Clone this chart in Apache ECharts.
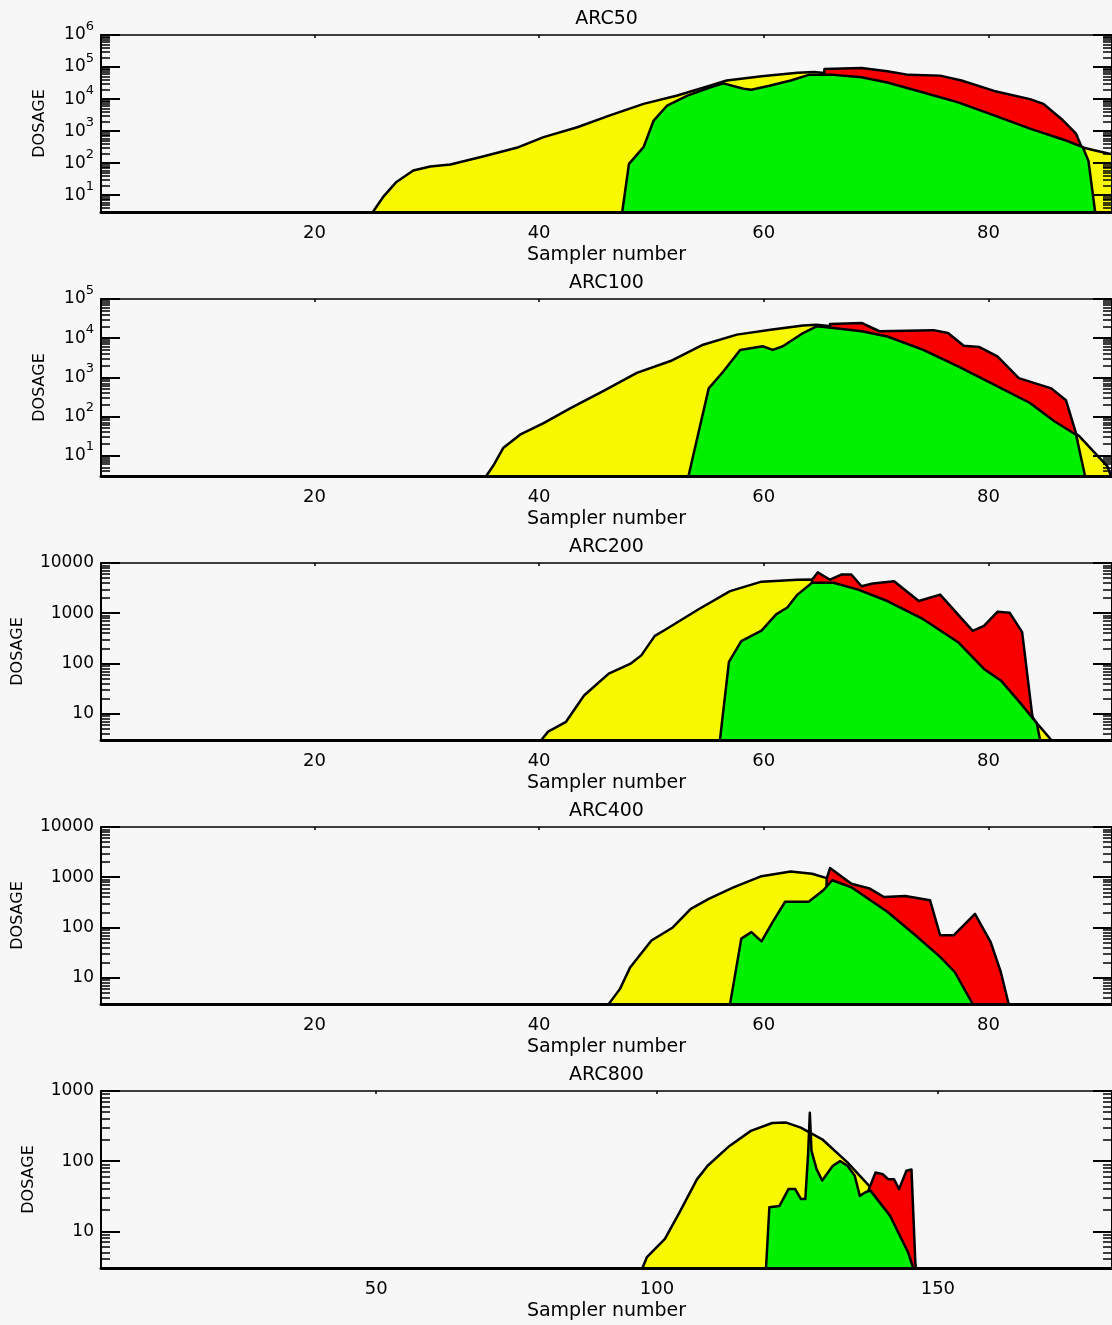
<!DOCTYPE html>
<html><head><meta charset="utf-8">
<script src="https://cdn.jsdelivr.net/npm/echarts@6/dist/echarts.min.js"></script>
<style>html,body{margin:0;padding:0;background:#f7f7f7}#c{width:1112px;height:1325px}</style>
</head><body><div id="c"></div>
<script>
// ---------- data: [sampler number, dosage] ----------
const titles = ['ARC50', 'ARC100', 'ARC200', 'ARC400', 'ARC800'];
const xTicksA = [20, 40, 60, 80];
const xTicksB = [50, 100, 150];

const yellow50 = [[25.2,3],[26.1,8.7],[27.3,26],[28.8,59],[30.3,79],[32.1,91],[35.0,162],[38.0,302],[40.4,650],[43.4,1320],[46.3,3100],[49.3,7100],[52.3,12900],[55.2,26000],[56.7,38000],[59.8,52000],[63.0,66000],[64.5,70000],[66,62000],[70,35000],[75,14000],[80,4000],[84,1100],[86.5,500],[88.3,316],[89.5,250],[91,190]];
const red50 = [[64.8,3],[65.4,87000],[68.7,93000],[71.0,74000],[72.9,57000],[75.7,54000],[77.6,38000],[80.5,18000],[83.7,10000],[84.9,7100],[86.5,2400],[87.8,830],[88.3,316],[89.0,3]];
const green50 = [[47.4,3],[48.0,95],[49.3,316],[50.2,2140],[51.4,6300],[53.2,12900],[55.2,23000],[56.4,31000],[58.2,21000],[58.9,19500],[60.5,26000],[62.4,38000],[64.0,57000],[66.2,57000],[68.7,48000],[71.0,33000],[74.2,16000],[77.3,7900],[80.5,3100],[83.7,1200],[86.9,510],[88.4,316],[88.9,120],[89.5,3]];

const yellow100 = [[35.3,3],[36.0,6],[36.8,15.5],[38.3,34],[40.4,67],[42.8,162],[45.7,440],[48.7,1290],[51.7,2600],[54.6,6800],[57.6,12300],[60.6,16300],[63.5,21000],[64.7,22000],[66,20000],[70,12000],[75,4500],[80,900],[85,120],[87.8,36],[88.1,31],[90.6,5.3],[90.9,3]];
const red100 = [[65.5,3],[65.9,23000],[68.7,24500],[70.3,15000],[75.1,16000],[76.4,13500],[77.8,6400],[79.2,5900],[80.8,3400],[82.7,950],[85.6,520],[86.9,260],[87.8,37],[88.4,3]];
const green100 = [[53.3,3],[55.1,520],[56.4,1400],[57.9,5000],[59.9,6200],[60.8,5000],[61.7,6200],[63.5,13500],[64.7,20000],[65.6,19000],[68.7,15000],[71.0,11000],[74.2,5000],[77.3,1900],[80.5,650],[83.7,220],[85.9,74],[87.8,34],[88.6,3]];

const yellow200 = [[40.2,3],[40.8,4.4],[42.4,6.9],[44.0,23],[46.2,63],[48.1,98],[49.1,145],[50.3,355],[51.3,480],[54.2,1200],[57.0,2750],[59.8,4250],[63.0,4650],[64.3,4700],[66,4000],[70,2200],[75,650],[80,90],[83,17],[84.3,6.5],[85.6,3]];
const red200 = [[64.0,3],[64.3,4650],[64.8,6500],[65.9,4650],[66.9,5900],[67.8,5900],[68.7,3450],[69.7,3900],[71.6,4350],[73.8,1750],[75.7,2350],[78.6,445],[79.6,560],[80.8,1070],[81.9,1020],[83.0,420],[83.9,9.3],[84.4,3]];
const green200 = [[56.1,3],[56.9,108],[58.0,280],[59.8,450],[61.1,950],[62.1,1300],[63.0,2350],[64.3,4050],[66.2,4050],[68.4,2950],[71.0,1750],[74.2,760],[77.3,265],[79.6,78],[81.1,46],[83.0,14.8],[84.3,6.5],[84.6,3]];

const yellow400 = [[46.2,3],[47.2,6.0],[48.1,16],[50.0,55],[51.9,100],[53.5,235],[55.1,370],[57.3,630],[59.8,1050],[62.4,1300],[64.3,1170],[65.6,960],[67,750],[70,300],[73,90],[76,22],[78.6,3]];
const red400 = [[65.3,3],[65.6,940],[65.9,1520],[67.8,740],[69.4,600],[70.7,405],[72.6,425],[74.8,350],[75.7,70],[76.9,70],[78.8,187],[80.2,51],[81.1,13],[81.8,3]];
const green400 = [[57.0,3],[58.0,60],[58.9,81],[59.8,53],[60.8,129],[61.9,325],[64.0,325],[65.3,550],[66.1,870],[67.8,630],[71.0,205],[73.5,70],[75.7,26],[77.0,13],[78.6,3]];

const yellow800 = [[97.4,3],[98.2,4.3],[101.4,7.8],[104.0,18.6],[107.1,55],[109.0,86],[112.9,165],[116.7,270],[120.5,350],[123.0,355],[125.6,300],[129.4,205],[133.9,96],[138.3,40],[141.5,16.6],[144.7,5.6],[145.9,3]];
const red800 = [[136.5,3],[137.5,36],[138.9,69],[140.2,65],[141.2,55],[142.2,55],[143.1,40],[144.4,73],[145.3,76],[146.0,3.4],[146.1,3]];
const green800 = [[119.4,3],[120.0,22],[121.8,23],[123.4,40],[124.6,40],[125.6,29],[126.4,29],[126.9,130],[127.2,490],[127.5,140],[128.4,77],[129.4,53],[131.3,86],[132.6,100],[133.9,86],[135.2,62],[136.1,32],[137.1,36],[138.0,38],[141.5,16.6],[144.7,5.0],[145.6,3]];

// ---------- layout / style ----------
const FONT = 'DejaVu Sans';
const COL_Y = '#f8f800', COL_R = '#f80000', COL_G = '#00f000';
const panels = [
  {title: titles[0], xMax: 91,  yMax: 1e6, xTicks: xTicksA, sup: true,  nameGap: 53, y: yellow50,  r: red50,  g: green50},
  {title: titles[1], xMax: 91,  yMax: 1e5, xTicks: xTicksA, sup: true,  nameGap: 53, y: yellow100, r: red100, g: green100},
  {title: titles[2], xMax: 91,  yMax: 1e4, xTicks: xTicksA, sup: false, nameGap: 75, y: yellow200, r: red200, g: green200},
  {title: titles[3], xMax: 91,  yMax: 1e4, xTicks: xTicksA, sup: false, nameGap: 75, y: yellow400, r: red400, g: green400},
  {title: titles[4], xMax: 181, yMax: 1e3, xTicks: xTicksB, sup: false, nameGap: 64, y: yellow800, r: red800, g: green800}
];

const grids = [], xAxes = [], yAxes = [], series = [];
const txt = {color: '#000', fontFamily: FONT};

panels.forEach((p, i) => {
  const top = 35 + 264 * i;
  grids.push({left: 101, width: 1011, top: top, height: 177, outerBoundsMode: 'none', containLabel: false});
  const majors = [], minors = [];
  for (let d = 0; Math.pow(10, d) < p.yMax; d++) {
    majors.push(Math.pow(10, d + 1));
    for (let k = 2; k <= 9; k++) { const v = k * Math.pow(10, d); if (v > 3 && v < p.yMax) minors.push(v); }
  }
  const xb = xAxes.length;
  xAxes.push({
    type: 'value', gridIndex: i, min: 1, max: p.xMax, position: 'bottom', z: 8,
    axisLine: {show: true, onZero: false, lineStyle: {color: '#000', width: 3}},
    axisTick: {show: false}, splitLine: {show: false},
    axisLabel: Object.assign({customValues: p.xTicks, margin: 12, fontSize: 18}, txt),
    name: 'Sampler number', nameLocation: 'middle', nameGap: 34,
    nameTextStyle: Object.assign({fontSize: 19}, txt)
  });
  xAxes.push({
    type: 'value', gridIndex: i, min: 1, max: p.xMax, position: 'top', z: 8,
    axisLine: {show: true, onZero: false, lineStyle: {color: '#000', width: 1.5}},
    axisTick: {show: true, inside: true, length: 3, customValues: p.xTicks, lineStyle: {color: '#000', width: 1.5}},
    axisLabel: {show: false}, splitLine: {show: false},
    name: p.title, nameLocation: 'middle', nameGap: 6,
    nameTextStyle: Object.assign({fontSize: 19}, txt)
  });
  const yb = yAxes.length;
  ['left', 'right'].forEach(pos => {
    const labelCfg = {show: pos === 'left', customValues: majors, margin: 7, fontSize: 17, color: '#000', fontFamily: FONT,
                      formatter: v => String(Math.round(v))};
    if (p.sup) {
      labelCfg.formatter = v => '{b|10}{s|' + Math.round(Math.log10(v)) + '}';
      labelCfg.rich = {
        b: {fontSize: 17, lineHeight: 30, color: '#000', fontFamily: FONT},
        s: {fontSize: 13, lineHeight: 13, verticalAlign: 'top', color: '#000', fontFamily: FONT}
      };
    }
    yAxes.push({
      type: 'log', logBase: 10, gridIndex: i, min: 3, max: p.yMax, position: pos, z: 8,
      axisLine: {show: true, onZero: false, lineStyle: {color: '#000', width: 2}},
      axisTick: {show: true, inside: true, length: 19, customValues: majors, lineStyle: {color: '#000', width: 2}},
      axisLabel: labelCfg, splitLine: {show: false}, minorTick: {show: false},
      name: pos === 'left' ? 'DOSAGE' : '', nameLocation: 'middle', nameGap: p.nameGap,
      nameTextStyle: Object.assign({fontSize: 16}, txt)
    });
    yAxes.push({
      type: 'log', logBase: 10, gridIndex: i, min: 3, max: p.yMax, position: pos, z: 8,
      axisLine: {show: false},
      axisTick: {show: true, inside: true, length: 9, customValues: minors, lineStyle: {color: '#000', width: 1.5}},
      axisLabel: {show: false}, splitLine: {show: false}
    });
  });
  [[p.y, COL_Y, 2], [p.r, COL_R, 3], [p.g, COL_G, 4]].forEach(([data, col, z]) => {
    series.push({
      type: 'line', xAxisIndex: xb, yAxisIndex: yb, data: data, symbol: 'none', clip: true, z: z,
      lineStyle: {color: '#000', width: 2.5, join: 'round'},
      areaStyle: {color: col, opacity: 1, origin: 'start'}
    });
  });
});

const chart = echarts.init(document.getElementById('c'), null, {renderer: 'canvas'});
chart.setOption({
  backgroundColor: '#f7f7f7', animation: false,
  grid: grids, xAxis: xAxes, yAxis: yAxes, series: series
});
</script></body></html>
